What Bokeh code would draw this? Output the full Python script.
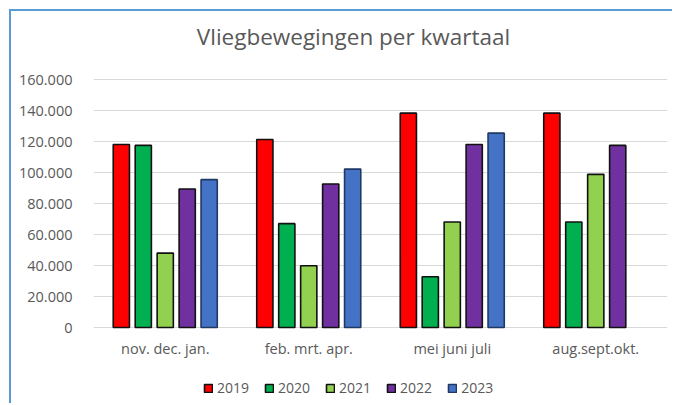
from bokeh.plotting import figure
from bokeh.models import (ColumnDataSource, FactorRange, Range1d, FixedTicker,
                          Legend, LegendItem, Label)
from bokeh.core.properties import value
from bokeh.transform import dodge
from bokeh.embed import file_html
from bokeh.resources import INLINE

# ---- data ----
categories = ["nov. dec. jan.", "feb. mrt. apr.", "mei juni juli", "aug.sept.okt."]
years = ["2019", "2020", "2021", "2022", "2023"]
v2019 = [118100, 121300, 138300, 138300]
v2020 = [117500, 67000, 32700, 68100]
v2021 = [48000, 39800, 68100, 98800]
v2022 = [89400, 92600, 118100, 117500]
v2023 = [95400, 102200, 125400, None]
y_ticks = [0, 20000, 40000, 60000, 80000, 100000, 120000, 140000, 160000]
y_tick_labels = ["0", "20.000", "40.000", "60.000", "80.000", "100.000",
                 "120.000", "140.000", "160.000"]
title_text = "Vliegbewegingen per kwartaal"

series = [v2019, v2020, v2021, v2022, v2023]
fills = ["#FF0000", "#00B050", "#92D050", "#7030A0", "#4472C4"]
lines = ["#111111", "#111111", "#111111", "#111111", "#1F3864"]
offsets = [-0.306, -0.153, 0.0, 0.153, 0.306]

FONT = "Open Sans"
GREY = "#595959"

# canvas: x 11..674, y 11..405 ; value 0 at y=327, 160000 at y=79
px_per_unit = 248 / 160000.0
y_top = 160000 + (79 - 11) / px_per_unit
y_bottom = -(405 - 327) / px_per_unit
cat_label_y = -(348 - 327) / px_per_unit

p = figure(width=663, height=394, output_backend="svg", toolbar_location=None,
           x_range=FactorRange(*categories, range_padding=0),
           y_range=Range1d(y_bottom, y_top),
           min_border_left=82, min_border_right=7,
           min_border_top=0, min_border_bottom=0)
p.styles = {"margin-left": "9px", "margin-top": "9px",
            "border-left": "2px solid #5B9BD5", "border-top": "2px solid #5B9BD5"}
p.outline_line_color = None
p.background_fill_color = "white"

items = []
for yr, vals, fc, lc, off in zip(years, series, fills, lines, offsets):
    cats = [c for c, v in zip(categories, vals) if v is not None]
    tops = [v for v in vals if v is not None]
    src = ColumnDataSource(dict(cat=cats, top=tops))
    r = p.vbar(x=dodge("cat", off, range=p.x_range), top="top", bottom=0,
               width=0.113, source=src, fill_color=fc, line_color=lc,
               line_width=1.6)
    items.append(LegendItem(label=yr, renderers=[r]))

# y axis
p.yaxis.ticker = FixedTicker(ticks=y_ticks)
p.yaxis.major_label_overrides = {t: l for t, l in zip(y_ticks, y_tick_labels)}
ax = p.yaxis[0]
ax.axis_line_color = None
ax.major_tick_line_color = None
ax.minor_tick_line_color = None
ax.major_label_text_font = FONT
ax.major_label_text_font_size = "14.5px"
ax.major_label_text_color = GREY
ax.major_label_standoff = 15

# category labels (x axis hidden, labels placed on the categorical scale)
p.xaxis.visible = False
p.text(x=categories, y=[cat_label_y] * len(categories), text=categories,
       text_align="center", text_baseline="middle",
       text_font=value(FONT), text_font_size="14.5px", text_color=GREY)

p.xgrid.grid_line_color = None
p.ygrid.grid_line_color = "#D9D9D9"
p.ygrid.grid_line_width = 1.2

# title
p.add_layout(Label(x=260, y=369, x_units="screen", y_units="screen",
                   text=title_text, text_align="center", text_baseline="alphabetic",
                   text_font=FONT, text_font_size="22.5px", text_color=GREY))

legend = Legend(items=items, orientation="horizontal", location=(110, 8),
                padding=0, margin=0, spacing=15, label_standoff=4,
                glyph_width=10, glyph_height=10,
                label_text_font=FONT, label_text_font_size="14px",
                label_text_color=GREY, border_line_color=None,
                background_fill_alpha=0)
p.add_layout(legend, "center")

open("out.html", "w").write(file_html(p, INLINE))
